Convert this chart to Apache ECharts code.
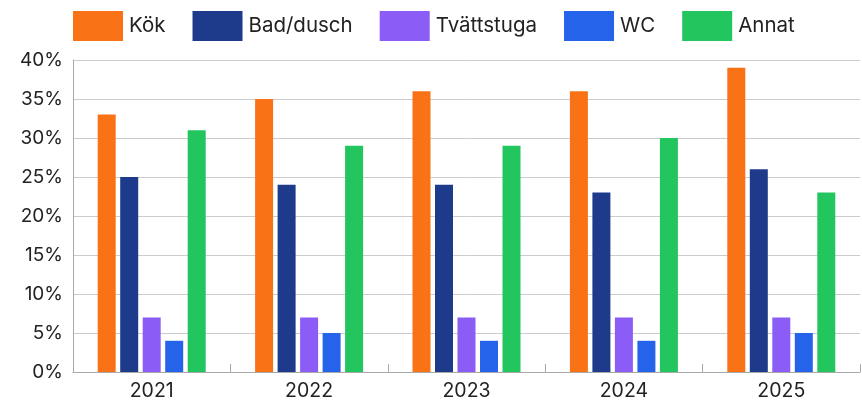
<!DOCTYPE html>
<html>
<head>
<meta charset="utf-8">
<script src="https://cdn.jsdelivr.net/npm/echarts@6/dist/echarts.min.js"></script>
<style>
  html, body { margin: 0; padding: 0; background: #fff; }
  #chart { width: 862px; height: 401px; }
</style>
</head>
<body>
<div id="chart"></div>
<script>
const years = ["2021", "2022", "2023", "2024", "2025"];
const kok = [33, 35, 36, 36, 39];
const badDusch = [25, 24, 24, 23, 26];
const tvattstuga = [7, 7, 7, 7, 7];
const wc = [4, 5, 4, 4, 5];
const annat = [31, 29, 29, 30, 23];
const yTicks = [0, 5, 10, 15, 20, 25, 30, 35, 40];

const seriesDefs = [
  { name: "Kök", data: kok, color: "#f97316" },
  { name: "Bad/dusch", data: badDusch, color: "#1e3a8a" },
  { name: "Tvättstuga", data: tvattstuga, color: "#8b5cf6" },
  { name: "WC", data: wc, color: "#2563eb" },
  { name: "Annat", data: annat, color: "#22c55e" }
];

const chart = echarts.init(document.getElementById("chart"));
const font = "Inter";

const option = {
  animation: false,
  textStyle: { fontFamily: font },
  legend: {
    top: 11,
    left: 73,
    padding: 0,
    itemWidth: 50,
    itemHeight: 30,
    itemGap: 27,
    icon: "rect",
    textStyle: { fontSize: 20.5, color: "#222", fontFamily: font, padding: [0, 0, 0, 1] },
    data: seriesDefs.map(s => s.name)
  },
  grid: { left: 73, right: 2, top: 60, bottom: 29, containLabel: false },
  xAxis: {
    type: "category",
    data: years,
    axisLine: { lineStyle: { color: "#aaa" } },
    axisTick: { show: true, inside: true, length: 8, lineStyle: { color: "#aaa" } },
    axisLabel: { fontSize: 19.5, color: "#222", margin: 9 }
  },
  yAxis: {
    type: "value",
    min: yTicks[0],
    max: yTicks[yTicks.length - 1],
    interval: 5,
    axisLine: { show: true, lineStyle: { color: "#aaa" } },
    axisTick: { show: false },
    splitLine: { lineStyle: { color: "#ccc" } },
    axisLabel: { fontSize: 19, color: "#222", margin: 10, formatter: "{value}%" }
  },
  series: seriesDefs.map(s => ({
    name: s.name,
    type: "bar",
    data: s.data,
    barWidth: 18,
    barGap: "25%",
    itemStyle: { color: s.color }
  }))
};

chart.setOption(option);
</script>
</body>
</html>
